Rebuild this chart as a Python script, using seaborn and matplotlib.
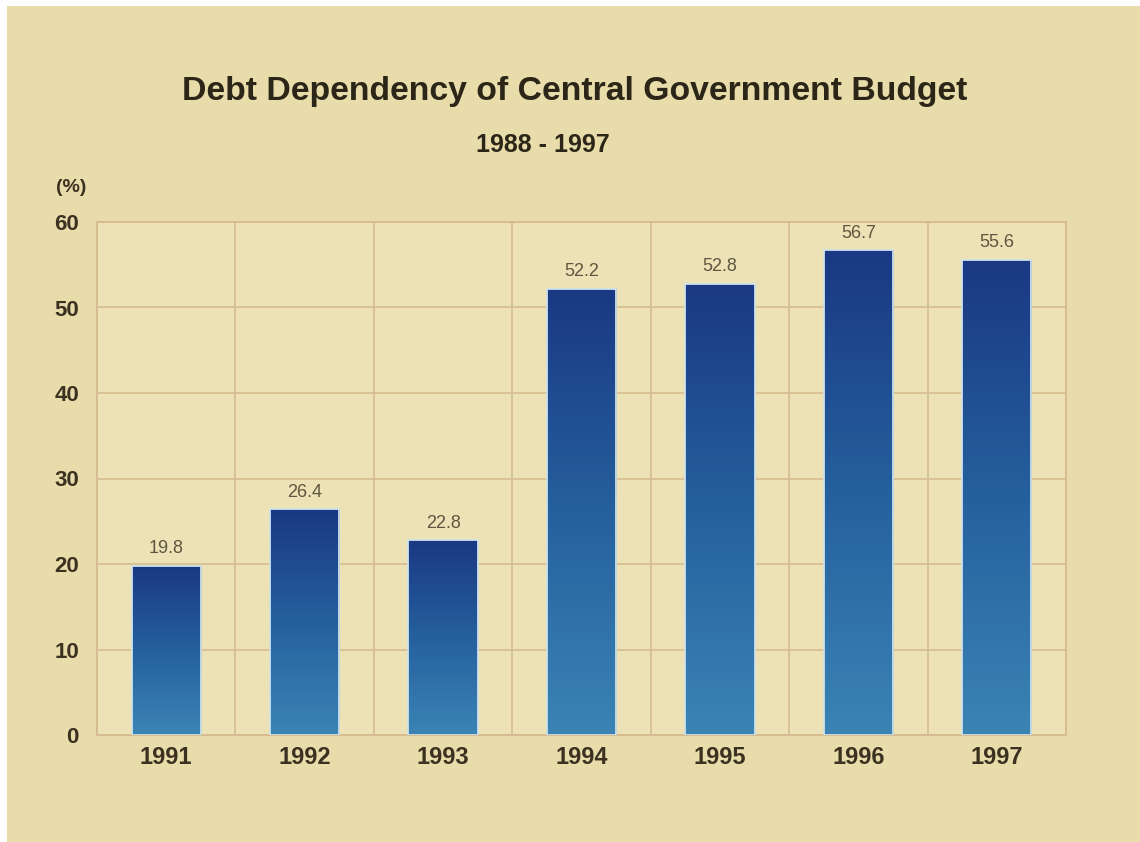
import numpy as np
import pandas as pd
import matplotlib
matplotlib.use("Agg")
import matplotlib.pyplot as plt
from matplotlib.colors import LinearSegmentedColormap
from matplotlib.patches import Rectangle
import seaborn as sns

years = ["1991", "1992", "1993", "1994", "1995", "1996", "1997"]
values = [19.8, 26.4, 22.8, 52.2, 52.8, 56.7, 55.6]
y_ticks = [0, 10, 20, 30, 40, 50, 60]

title = "Debt Dependency of Central Government Budget"
subtitle = "1988 - 1997"
unit_label = "(%)"

BG = "#E8DCAA"
PLOT_BG = "#EDE2B6"
GRID = "#D6BC8E"
TEXT_DARK = "#2B2618"
TICK_TEXT = "#3B3120"
VALUE_TEXT = "#5E5640"
BAR_TOP = "#1A3883"
BAR_BOTTOM = "#3B84B4"
BAR_EDGE = "#CFE2EA"

sns.set_style("white")
plt.rcParams["font.family"] = ["Liberation Sans", "DejaVu Sans"]

df = pd.DataFrame({"year": years, "value": values})

fig = plt.figure(figsize=(11.4, 8.42), dpi=100, facecolor="white")
# cream card behind the chart, leaving a thin white margin on the top and left
fig.patches.append(Rectangle((7 / 1140, 0), 1, 836 / 842, transform=fig.transFigure,
                             facecolor=BG, edgecolor="none", zorder=-10))

ax = fig.add_axes([97 / 1140, 107 / 842, 969 / 1140, 513 / 842])
ax.set_facecolor(PLOT_BG)

sns.barplot(data=df, x="year", y="value", width=0.5, color=BAR_BOTTOM,
            edgecolor="none", linewidth=0, ax=ax, zorder=3)

# vertical gradient fill inside each bar
cmap = LinearSegmentedColormap.from_list("bar_grad", [BAR_BOTTOM, "#25609E", BAR_TOP])
grad = np.linspace(0, 1, 256).reshape(-1, 1)
for patch in list(ax.patches):
    x0, y0 = patch.get_x(), patch.get_y()
    w, h = patch.get_width(), patch.get_height()
    im = ax.imshow(grad, extent=[x0, x0 + w, y0, y0 + h], cmap=cmap, origin="lower",
                   aspect="auto", zorder=4, interpolation="bicubic")
    im.set_clip_path(patch)
    ax.add_patch(Rectangle((x0, y0), w, h, fill=False, edgecolor=BAR_EDGE,
                           linewidth=1.3, zorder=5))
    ax.text(x0 + w / 2, y0 + h + 1.0, f"{h:.1f}", ha="center", va="bottom",
            fontsize=13, color=VALUE_TEXT, zorder=6)

ax.set_xlim(-0.5, len(years) - 0.5)
ax.set_ylim(0, 60)
ax.set_yticks(y_ticks)
ax.set_yticklabels([str(t) for t in y_ticks])

# grid: horizontal at each tick, vertical between categories
for t in y_ticks[1:-1]:
    ax.axhline(t, color=GRID, linewidth=1.2, zorder=1)
for i in range(len(years) - 1):
    ax.axvline(i + 0.5, color=GRID, linewidth=1.2, zorder=1)

for side in ["left", "right", "top", "bottom"]:
    ax.spines[side].set_visible(True)
    ax.spines[side].set_color(GRID)
    ax.spines[side].set_linewidth(1.4)

ax.tick_params(axis="both", length=0, colors=TICK_TEXT)
ax.tick_params(axis="y", pad=13)
ax.tick_params(axis="x", pad=8)
for lab in ax.get_xticklabels():
    lab.set_fontsize(17)
    lab.set_fontweight("bold")
    lab.set_color(TICK_TEXT)
for lab in ax.get_yticklabels():
    lab.set_fontsize(16)
    lab.set_fontweight("bold")
    lab.set_color(TICK_TEXT)
ax.set_xlabel("")
ax.set_ylabel("")

fig.text(574.5 / 1140, (842 - 100) / 842, title, ha="center", va="baseline",
         fontsize=24.3, fontweight="bold", color=TEXT_DARK)
fig.text(543 / 1140, (842 - 152) / 842, subtitle, ha="center", va="baseline",
         fontsize=18, fontweight="bold", color=TEXT_DARK)
fig.text(71 / 1140, (842 - 187) / 842, unit_label, ha="center", va="center",
         fontsize=14, fontweight="bold", color=TICK_TEXT)

fig.savefig("out.png", dpi=100, facecolor=fig.get_facecolor())
